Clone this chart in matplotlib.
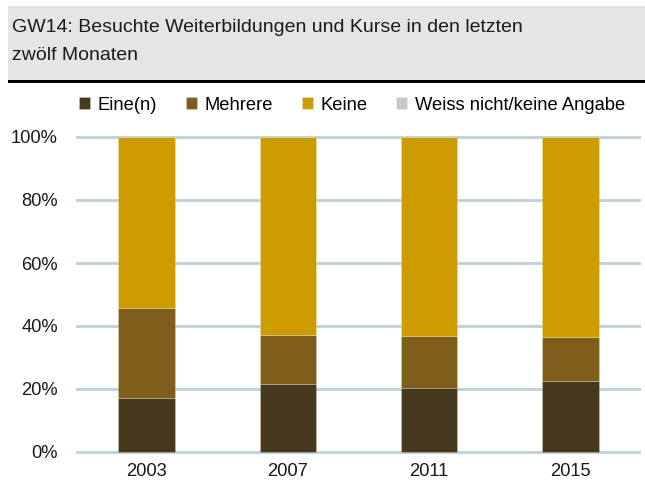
import matplotlib
matplotlib.use("Agg")
import matplotlib.pyplot as plt
from matplotlib.patches import Rectangle
import numpy as np

plt.rcParams['font.family'] = ['Liberation Sans', 'DejaVu Sans']

years = ["2003", "2007", "2011", "2015"]
series_names = ["Eine(n)", "Mehrere", "Keine", "Weiss nicht/keine Angabe"]
eine = [17.1, 21.5, 20.3, 22.4]
mehrere = [28.7, 15.5, 16.4, 14.0]
keine = [54.2, 63.0, 63.3, 63.6]
weiss = [0.0, 0.0, 0.0, 0.0]
colors = ["#47391e", "#7f5e1c", "#cc9c00", "#c8c8c8"]
yticks = [0, 20, 40, 60, 80, 100]
ytick_labels = ["0%", "20%", "40%", "60%", "80%", "100%"]
title_lines = ["GW14: Besuchte Weiterbildungen und Kurse in den letzten",
               "zwölf Monaten"]

W, H = 645, 483
fig = plt.figure(figsize=(W / 100, H / 100), dpi=100)

# title box
fig.patches.append(Rectangle((8 / W, 1 - 79.5 / H), 1 - 8 / W, 73.5 / H,
                             transform=fig.transFigure, facecolor="#e5e5e5",
                             edgecolor="none", zorder=0))
fig.patches.append(Rectangle((8 / W, 1 - 83 / H), 1 - 8 / W, 3.5 / H,
                             transform=fig.transFigure, facecolor="#000000",
                             edgecolor="none", zorder=1))
for line, yb in zip(title_lines, [32, 60]):
    fig.text(12 / W, 1 - yb / H, line, fontsize=14, color="#1a1a1a",
             ha="left", va="baseline")

# axes
left, right = 76, 641
top_px = 137 - 3.15
bot_px = 452 + 3.15
ax = fig.add_axes([left / W, 1 - bot_px / H, (right - left) / W, (bot_px - top_px) / H])
ax.set_ylim(-1, 101)
ax.set_xlim(-0.5, 3.5)

x = np.arange(len(years))
bottom = np.zeros(len(years))
data = [eine, mehrere, keine, weiss]
handles = []
for vals, c, name in zip(data, colors, series_names):
    b = ax.bar(x, vals, width=0.4, bottom=bottom, color=c, label=name,
               edgecolor=(1, 1, 1, 0.25), linewidth=0.6, zorder=3)
    handles.append(b)
    bottom += np.array(vals)

for t in yticks:
    ax.axhline(t, color="#bfd0d9", linewidth=2, zorder=1)

ax.set_yticks(yticks)
ax.set_yticklabels(ytick_labels, fontsize=13.2, color="#1a1a1a")
ax.set_xticks(x)
ax.set_xticklabels(years, fontsize=13.2, color="#1a1a1a")
ax.tick_params(axis="y", length=0, pad=13)
ax.tick_params(axis="x", length=0, pad=6)
for s in ax.spines.values():
    s.set_visible(False)

leg = fig.legend(handles=handles, labels=series_names, loc="center left",
                 bbox_to_anchor=(79 / W, 1 - 105 / H), ncol=4, frameon=False,
                 fontsize=13.2, handlelength=0.6, handleheight=0.6,
                 handletextpad=0.43, columnspacing=1.55, borderpad=0,
                 borderaxespad=0)

fig.savefig("out.png", dpi=100)
